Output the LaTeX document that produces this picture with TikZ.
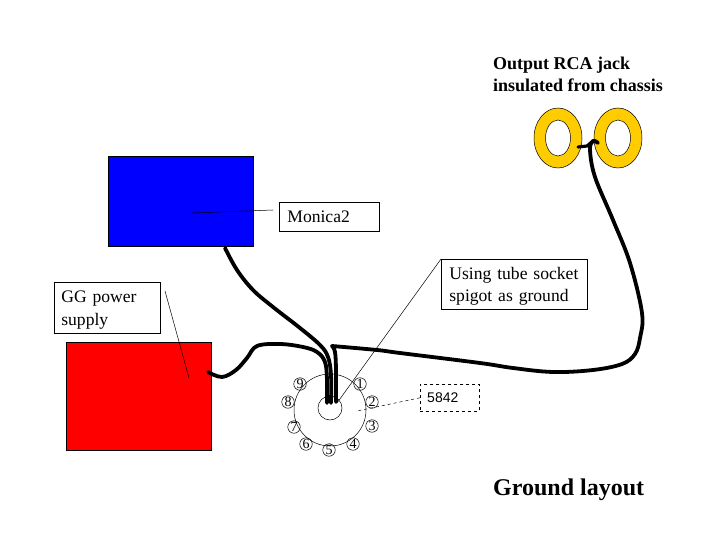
\documentclass[tikz,border=0pt]{standalone}
\usepackage{fontspec}
\setmainfont{Liberation Serif}
\newfontfamily\labelsans{Liberation Sans}
\usetikzlibrary{shapes.geometric}
\definecolor{ringgold}{RGB}{255,204,0}
\tikzset{
  lab/.style={draw=black,fill=white,line width=0.7pt,inner sep=0pt,align=left,anchor=north west,font=\fontsize{17.6}{22}\selectfont},
  block/.style={draw=black,line width=0.4pt,inner sep=0pt,anchor=north west},
  wire/.style={line width=3.8pt,line cap=round,line join=round},
  leader/.style={line width=0.5pt},
  pin/.style={draw=black,circle,line width=0.5pt,minimum size=12.5pt,inner sep=0pt,font=\fontsize{14}{14}\selectfont},
  ring/.style={draw=black,line width=0.5pt,ellipse,inner sep=0pt}
}
\begin{document}
\begin{tikzpicture}[x=1pt,y=-1pt]
\useasboundingbox (0,0) rectangle (720,540);
\fill[white] (0,0) rectangle (720,540);
% blocks
\node[block,fill=blue,minimum width=145pt,minimum height=90pt] (monica) at (108,156) {};
\node[block,fill=red,minimum width=145pt,minimum height=108pt] (gg) at (66,342) {};
% rings
\node[ring,fill=ringgold,minimum width=48pt,minimum height=60pt] (ringa) at (558,138) {};
\node[ring,fill=white,minimum width=25pt,minimum height=36pt] (holea) at (558,138) {};
\node[ring,fill=ringgold,minimum width=48pt,minimum height=60pt] (ringb) at (618,138) {};
\node[ring,fill=white,minimum width=25pt,minimum height=36pt] (holeb) at (618,138) {};
% socket
\node[draw=black,circle,line width=0.5pt,minimum size=72pt,inner sep=0pt] (socket) at (330,410) {};
\node[draw=black,circle,line width=0.5pt,minimum size=24pt,inner sep=0pt] (spigot) at (330,408) {};
\node[pin] (p1) at (360,384) {1};
\node[pin] (p2) at (372,402) {2};
\node[pin] (p3) at (372,426) {3};
\node[pin] (p4) at (353,444) {4};
\node[pin] (p5) at (329,450) {5};
\node[pin] (p6) at (306,444) {6};
\node[pin] (p7) at (294,427) {7};
\node[pin] (p8) at (288,402) {8};
\node[pin] (p9) at (300,384) {9};
% labels
\node[lab,minimum height=29pt,text width=92pt,inner xsep=4pt] (lmon) at (279,202) {\hspace*{4pt}Monica2};
\node[lab,minimum height=50pt,text width=142pt,inner xsep=2pt] (ltube) at (441,259) {\rule{0pt}{16pt}\hspace*{6pt}Using tube socket\\\hspace*{6pt}spigot as ground};
\node[lab,minimum height=51pt,text width=102pt,inner xsep=2pt] (lgg) at (54,282) {\rule{0pt}{16pt}\hspace*{5pt}GG power\\[1pt]\hspace*{5pt}supply};
\node[draw=black,dashed,line width=0.6pt,minimum width=59pt,minimum height=27pt,anchor=north west,inner sep=0pt,font=\labelsans\fontsize{14}{16}\selectfont] (l5842) at (420,384) {\hspace*{-14pt}5842};
\node[anchor=north west,inner sep=0pt,align=left,font=\bfseries\fontsize{18}{22}\selectfont] (lout) at (493,57) {Output RCA jack\\insulated from chassis};
\node[anchor=west,inner sep=0pt,font=\bfseries\fontsize{24}{26}\selectfont] (ltitle) at (493,490) {Ground layout};
% leaders
\coordinate (ms) at (273,210);
\coordinate (mt) at (192,213);
\coordinate (gt) at (189,378);
\coordinate (gs) at (165,291);
\coordinate (tt) at (337,403);
\coordinate (dt) at (357,411);
\draw[leader] (ms) -- (mt);
\draw[leader] (gs) -- (gt);
\draw[leader] (ltube.north west) -- (tt);
\draw[leader,dashed] (l5842.west) -- (dt);
% wires
\draw[wire] plot[smooth,tension=0.6] coordinates {(208,372) (222,377) (236,370) (247,358) (257,346) (280,344) (303,347) (317,352) (325,362) (327,380) (327,403)};
\draw[wire] plot[smooth,tension=0.6] coordinates {(225,248) (237,270) (253,290) (273,307) (300,328) (320,345) (328,357) (331,375) (331,403)};
\draw[wire] plot[smooth,tension=0.6] coordinates {(336,402) (336,370) (335,352) (332,346)};
\draw[wire] plot[smooth,tension=0.6] coordinates {(332,346) (377,350) (400,353) (480,363) (513,368) (553,372) (593,370) (622,364) (635,354) (640,338) (642,313) (630,263) (613,220) (595,177) (590,150) (593,141) (598,143)};
\draw[wire,line width=3.2pt] (578,147) -- (587,146) -- (593,141);
\end{tikzpicture}
\end{document}
